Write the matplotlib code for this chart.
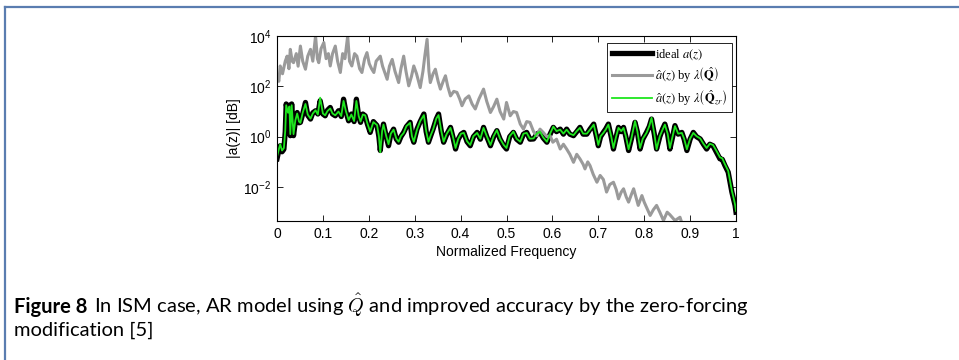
import numpy as np
import matplotlib.pyplot as plt
from matplotlib.font_manager import FontProperties
from matplotlib.lines import Line2D

# --- spectra, stored as log10 of |a(z)| ---
ideal_freq = [
    0.000, 0.004, 0.007, 0.011, 0.015, 0.018, 0.020, 0.024, 0.027, 0.029,
    0.032, 0.036, 0.040, 0.044, 0.048, 0.051, 0.056, 0.062, 0.067, 0.073,
    0.078, 0.084, 0.089, 0.094, 0.100, 0.105, 0.110, 0.116, 0.121, 0.127,
    0.134, 0.140, 0.145, 0.150, 0.156, 0.162, 0.168, 0.173, 0.178, 0.182,
    0.187, 0.192, 0.197, 0.203, 0.210, 0.218, 0.222, 0.225, 0.229, 0.232,
    0.238, 0.243, 0.248, 0.254, 0.260, 0.265, 0.270, 0.276, 0.282, 0.290,
    0.294, 0.298, 0.305, 0.312, 0.320, 0.325, 0.330, 0.335, 0.340, 0.347,
    0.352, 0.358, 0.363, 0.370, 0.378, 0.383, 0.389, 0.395, 0.401, 0.407,
    0.414, 0.421, 0.428, 0.436, 0.443, 0.450, 0.457, 0.465, 0.472, 0.479,
    0.486, 0.494, 0.500, 0.507, 0.515, 0.522, 0.530, 0.537, 0.544, 0.551,
    0.559, 0.566, 0.573, 0.580, 0.588, 0.595, 0.602, 0.609, 0.617, 0.624,
    0.631, 0.638, 0.646, 0.653, 0.660, 0.667, 0.675, 0.682, 0.690, 0.696,
    0.700, 0.705, 0.711, 0.716, 0.722, 0.728, 0.733, 0.739, 0.744, 0.750,
    0.755, 0.760, 0.766, 0.772, 0.780, 0.785, 0.791, 0.797, 0.805, 0.811,
    0.816, 0.822, 0.827, 0.834, 0.840, 0.845, 0.851, 0.856, 0.862, 0.867,
    0.874, 0.882, 0.887, 0.893, 0.900, 0.907, 0.914, 0.922, 0.929, 0.936,
    0.943, 0.950, 0.957, 0.965, 0.970, 0.976, 0.983, 0.988, 0.991, 0.995,
    0.998, 1.000,
]
ideal_log = [
    -0.88, -0.55, -0.36, -0.60, -0.50, 0.20, 1.30, 0.90, 1.25, 0.04,
    1.30, 0.04, 0.60, 0.96, 0.55, 0.57, 0.90, 1.36, 0.85, 0.70,
    0.95, 1.03, 0.90, 1.43, 0.90, 0.83, 1.05, 1.16, 0.90, 0.83,
    1.03, 0.80, 1.49, 1.00, 0.63, 0.90, 0.60, 1.49, 0.80, 0.57,
    0.90, 0.83, 0.50, 0.17, 0.60, 0.44, 0.00, -0.55, 0.20, 0.50,
    0.00, -0.36, 0.10, 0.30, -0.10, -0.22, 0.00, 0.17, 0.40, 0.57,
    0.00, -0.22, 0.30, 0.60, 0.90, 0.20, -0.22, 0.04, 0.30, 0.70,
    0.90, 0.20, -0.22, 0.10, 0.37, 0.00, -0.49, -0.10, 0.10, 0.17,
    -0.20, -0.36, 0.00, 0.17, -0.10, 0.37, 0.00, -0.36, 0.00, 0.24,
    -0.10, -0.36, -0.49, 0.00, 0.17, -0.10, -0.22, 0.10, 0.17, -0.10,
    -0.09, 0.10, 0.17, -0.05, -0.22, 0.10, 0.37, 0.20, 0.30, 0.10,
    0.30, 0.10, 0.04, 0.20, 0.37, 0.10, 0.10, 0.30, 0.50, 0.00,
    -0.36, 0.00, 0.17, 0.30, 0.50, 0.00, -0.49, 0.00, 0.37, 0.20,
    0.37, 0.00, -0.55, -0.10, 0.57, 0.20, -0.49, -0.10, 0.17, 0.40,
    0.70, 0.10, -0.49, 0.00, 0.30, 0.50, 0.10, -0.49, 0.00, 0.44,
    0.10, 0.17, -0.10, -0.55, -0.10, 0.17, 0.00, -0.09, -0.30, -0.49,
    -0.30, -0.36, -0.60, -0.88, -0.90, -1.15, -1.41, -1.90, -2.20, -2.50,
    -2.73, -3.00,
]
# zero-forcing estimate, same frequency grid as the ideal response
zf_log = [
    -0.80, -0.50, -0.30, -0.55, -0.45, 0.25, 1.25, 0.95, 1.20, 0.10,
    1.25, 0.10, 0.65, 0.92, 0.60, 0.55, 0.95, 1.30, 0.88, 0.72,
    0.92, 1.05, 0.88, 1.55, 0.92, 0.85, 1.02, 1.12, 0.92, 0.85,
    1.00, 0.82, 1.42, 1.02, 0.66, 0.88, 0.62, 1.42, 0.82, 0.60,
    0.88, 0.85, 0.52, 0.20, 0.58, 0.46, 0.02, -0.62, 0.22, 0.48,
    0.02, -0.30, 0.12, 0.28, -0.08, -0.20, 0.02, 0.15, 0.42, 0.55,
    0.02, -0.20, 0.28, 0.62, 0.86, 0.22, -0.20, 0.06, 0.28, 0.72,
    0.86, 0.22, -0.20, 0.12, 0.35, 0.02, -0.45, -0.08, 0.12, 0.15,
    -0.18, -0.33, 0.02, 0.15, -0.08, 0.35, 0.02, -0.33, 0.02, 0.26,
    -0.08, -0.33, -0.45, 0.02, 0.20, -0.08, -0.20, 0.12, 0.15, -0.08,
    -0.07, 0.12, 0.20, -0.03, -0.20, 0.12, 0.40, 0.22, 0.28, 0.12,
    0.28, 0.12, 0.06, 0.22, 0.35, 0.12, 0.12, 0.28, 0.48, 0.02,
    -0.33, 0.02, 0.15, 0.28, 0.48, 0.02, -0.45, 0.02, 0.35, 0.22,
    0.35, 0.02, -0.50, -0.08, 0.62, 0.22, -0.45, -0.08, 0.15, 0.42,
    0.75, 0.12, -0.50, 0.02, 0.28, 0.48, 0.12, -0.45, 0.02, 0.42,
    0.12, 0.15, -0.08, -0.50, -0.08, 0.15, 0.02, -0.07, -0.28, -0.45,
    -0.28, -0.33, -0.55, -0.82, -0.86, -1.10, -1.36, -1.85, -2.15, -2.45,
    -2.70, -2.95,
]

qhat_freq = [
    0.000, 0.004, 0.007, 0.012, 0.018, 0.022, 0.026, 0.029, 0.033, 0.036,
    0.042, 0.046, 0.051, 0.056, 0.062, 0.067, 0.073, 0.078, 0.084, 0.088,
    0.091, 0.096, 0.102, 0.107, 0.112, 0.116, 0.121, 0.127, 0.132, 0.138,
    0.143, 0.148, 0.154, 0.158, 0.163, 0.169, 0.174, 0.180, 0.185, 0.191,
    0.196, 0.201, 0.206, 0.211, 0.216, 0.225, 0.230, 0.240, 0.245, 0.251,
    0.257, 0.265, 0.270, 0.276, 0.281, 0.287, 0.293, 0.298, 0.304, 0.312,
    0.318, 0.322, 0.327, 0.331, 0.334, 0.340, 0.345, 0.351, 0.356, 0.362,
    0.367, 0.372, 0.378, 0.385, 0.392, 0.398, 0.403, 0.410, 0.418, 0.425,
    0.432, 0.440, 0.450, 0.457, 0.465, 0.472, 0.479, 0.486, 0.494, 0.500,
    0.508, 0.515, 0.522, 0.530, 0.537, 0.544, 0.551, 0.559, 0.566, 0.573,
    0.580, 0.588, 0.595, 0.601, 0.609, 0.617, 0.624, 0.631, 0.638, 0.646,
    0.653, 0.660, 0.667, 0.671, 0.677, 0.682, 0.689, 0.697, 0.704, 0.711,
    0.718, 0.725, 0.733, 0.739, 0.744, 0.750, 0.755, 0.761, 0.766, 0.772,
    0.777, 0.782, 0.787, 0.795, 0.800, 0.813, 0.820, 0.827, 0.834, 0.842,
    0.850, 0.856, 0.867, 0.878, 0.885, 0.900, 0.930, 0.960, 1.000,
]
qhat_log = [
    2.42, 2.20, 2.81, 2.50, 3.00, 3.20, 2.70, 3.47, 3.00, 2.94,
    3.30, 2.80, 3.60, 3.00, 2.68, 3.20, 3.47, 3.00, 4.00, 3.10,
    2.94, 3.50, 3.74, 3.10, 3.30, 2.81, 3.30, 3.60, 3.00, 2.55,
    3.30, 3.10, 4.00, 3.00, 2.81, 3.30, 3.20, 2.70, 2.55, 3.10,
    3.34, 2.90, 2.70, 2.55, 3.00, 3.20, 2.80, 2.28, 2.80, 3.07,
    2.60, 2.15, 2.70, 3.20, 2.60, 2.02, 2.40, 2.81, 2.50, 1.95,
    2.60, 3.20, 3.87, 2.60, 2.15, 2.50, 2.68, 2.20, 1.89, 2.20,
    2.42, 2.00, 1.62, 1.80, 1.76, 1.50, 1.23, 1.50, 1.62, 1.30,
    1.10, 1.50, 1.89, 1.40, 0.96, 1.20, 1.49, 1.00, 0.70, 1.36,
    0.83, 1.00, 0.96, 0.50, 0.30, 0.60, 0.57, 0.20, 0.04, 0.30,
    0.17, 0.00, 0.04, -0.22, -0.10, -0.49, -0.30, -0.49, -0.70, -1.02,
    -0.70, -0.88, -1.10, -1.28, -1.00, -1.15, -1.50, -1.81, -1.54, -1.70,
    -2.20, -1.90, -1.81, -2.10, -2.47, -2.20, -2.07, -2.40, -2.60, -2.30,
    -2.07, -2.40, -2.73, -2.34, -2.60, -3.13, -2.90, -2.73, -3.00, -3.33,
    -3.00, -3.10, -3.33, -3.20, -3.60, -3.90, -4.20, -4.40, -4.60,
]

x_ticks = [0, 0.1, 0.2, 0.3, 0.4, 0.5, 0.6, 0.7, 0.8, 0.9, 1]
x_labels = ['0', '0.1', '0.2', '0.3', '0.4', '0.5', '0.6', '0.7', '0.8', '0.9', '1']
y_exps = [-2, 0, 2, 4]

BLACK = '#000000'
GRAY = '#9a9a9a'
GREEN = '#1ee61e'
FRAME = '#5a7db0'

plt.rcParams['font.family'] = ['Liberation Sans', 'DejaVu Sans']
plt.rcParams['mathtext.fontset'] = 'custom'
plt.rcParams['mathtext.rm'] = 'Liberation Sans'

fig = plt.figure(figsize=(9.59, 3.60), dpi=100)
W, H = 959.0, 360.0

# page frame: top rule and left rule
fig.add_artist(Line2D([5 / W, 1.0], [1 - 6.5 / H, 1 - 6.5 / H], color=FRAME, lw=1.6))
fig.add_artist(Line2D([5 / W, 5 / W], [0.0, 1 - 6.5 / H], color=FRAME, lw=1.6))

ax = fig.add_axes([277 / W, 1 - 221 / H, 459 / W, 185 / H])

ax.plot(ideal_freq, np.power(10.0, ideal_log), color=BLACK, lw=3.8,
        label=r'ideal $a(z)$')
ax.plot(qhat_freq, np.power(10.0, qhat_log), color=GRAY, lw=2.2,
        label=r'$\hat{a}(z)$ by $\lambda\left(\hat{\mathbf{Q}}\right)$')
ax.plot(ideal_freq, np.power(10.0, zf_log), color=GREEN, lw=1.3,
        label=r'$\hat{a}(z)$ by $\lambda\left(\hat{\mathbf{Q}}_{zr}\right)$')

ax.set_yscale('log')
ax.set_xlim(0, 1)
ax.set_ylim(10 ** -3.35, 1e4)

ax.set_xticks(x_ticks)
ax.set_xticklabels(x_labels)
ax.set_yticks([10.0 ** e for e in y_exps])
ax.set_yticklabels([r'$\mathregular{10^{%d}}$' % e for e in y_exps])
ax.yaxis.set_minor_locator(plt.NullLocator())

ax.tick_params(direction='in', length=4, width=0.6, labelsize=10,
               top=True, right=True, pad=4)
for sp in ax.spines.values():
    sp.set_linewidth(0.8)

ax.set_xlabel('Normalized Frequency', fontsize=10, labelpad=3)
ax.set_ylabel('|a(z)| [dB]', fontsize=10, labelpad=2)

leg_font = FontProperties(family='Liberation Serif', size=9, math_fontfamily='stix')
leg = ax.legend(loc='upper right', bbox_to_anchor=(0.992, 0.962), borderaxespad=0,
                prop=leg_font, fancybox=False, framealpha=1, edgecolor='black',
                handlelength=3.2, handletextpad=0.3, labelspacing=0.25,
                borderpad=0.35)
leg.get_frame().set_linewidth(0.6)

# caption below the figure
cap_font = ['Lato', 'DejaVu Sans']
cap_size = 14.5
t0 = fig.text(14 / W, 1 - 313 / H, 'Figure 8', fontsize=cap_size, fontweight='bold',
              family=cap_font, va='baseline')
fig.canvas.draw()
bb = t0.get_window_extent(fig.canvas.get_renderer())
fig.text(bb.x1 / W + 7 / W, 1 - 313 / H,
         r'In ISM case, AR model using $\hat{Q}$ and improved accuracy by the zero-forcing',
         fontsize=cap_size, family=cap_font, va='baseline', math_fontfamily='cm')
fig.text(14 / W, 1 - 336 / H, 'modification [5]', fontsize=cap_size, family=cap_font,
         va='baseline')

fig.savefig('out.png', dpi=100)
